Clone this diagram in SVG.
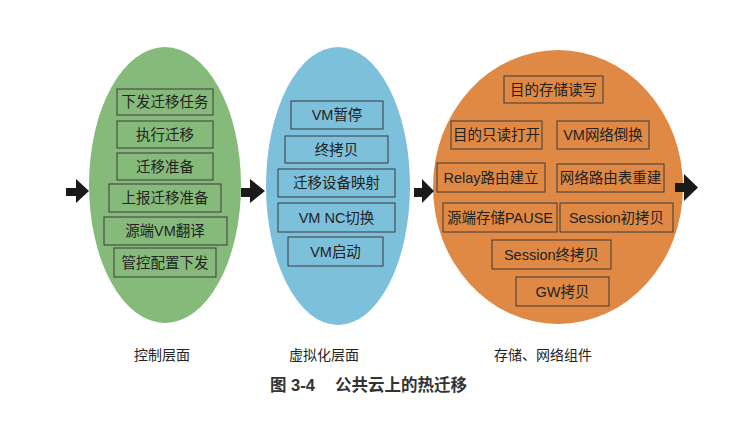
<svg xmlns="http://www.w3.org/2000/svg" width="756" height="426" viewBox="0 0 756 426">
<defs>
<style>
.box{fill:none;stroke:#3a3a3a;stroke-width:1}
.t{font-family:"Liberation Sans","Noto Sans CJK SC",sans-serif;font-size:14.5px;fill:#222;text-anchor:middle;dominant-baseline:central}
.lbl{font-family:"Liberation Sans","Noto Sans CJK SC",sans-serif;font-size:14px;fill:#222;text-anchor:middle;dominant-baseline:central}
.cap{font-family:"Liberation Sans","Noto Sans CJK SC",sans-serif;font-size:16.5px;font-weight:bold;fill:#333;dominant-baseline:central}
.arr{fill:#1a1a1a}
</style>
</defs>
<rect width="756" height="426" fill="#fff"/>
<g id="control-plane">
<ellipse cx="165" cy="185" rx="76" ry="138" fill="#86BA7A"/>
<g id="n1"><rect class="box" x="117" y="89" width="96" height="26"/><text class="t" x="165" y="102">下发迁移任务</text></g>
<g id="n2"><rect class="box" x="117" y="121" width="96" height="27"/><text class="t" x="165" y="134.5">执行迁移</text></g>
<g id="n3"><rect class="box" x="117" y="153" width="96" height="27"/><text class="t" x="165" y="166.5">迁移准备</text></g>
<g id="n4"><rect class="box" x="109" y="184" width="112" height="28"/><text class="t" x="165" y="198">上报迁移准备</text></g>
<g id="n5"><rect class="box" x="104" y="217" width="123" height="28"/><text class="t" x="165" y="231">源端VM翻译</text></g>
<g id="n6"><rect class="box" x="114" y="248" width="102" height="29"/><text class="t" x="165" y="262.5">管控配置下发</text></g>
</g>
<g id="virtualization-plane">
<ellipse cx="338" cy="186" rx="72" ry="139" fill="#7DC0DB"/>
<g id="v1"><rect class="box" x="291" y="101" width="92" height="28"/><text class="t" x="337" y="115">VM暂停</text></g>
<g id="v2"><rect class="box" x="285" y="136" width="103" height="27"/><text class="t" x="336.5" y="149.5">终拷贝</text></g>
<g id="v3"><rect class="box" x="278" y="169" width="117" height="28"/><text class="t" x="336.5" y="183">迁移设备映射</text></g>
<g id="v4"><rect class="box" x="278" y="203" width="117" height="29"/><text class="t" x="336.5" y="217.5">VM NC切换</text></g>
<g id="v5"><rect class="box" x="288" y="237" width="95" height="29"/><text class="t" x="335.5" y="251.5">VM启动</text></g>
</g>
<g id="storage-network">
<ellipse cx="558" cy="187" rx="125" ry="137" fill="#DF8944"/>
<g id="s1"><rect class="box" x="504" y="76" width="99" height="27"/><text class="t" x="553.5" y="89.5">目的存储读写</text></g>
<g id="s2"><rect class="box" x="451" y="121" width="91" height="28"/><text class="t" x="496.5" y="135">目的只读打开</text></g>
<g id="s3"><rect class="box" x="557" y="121" width="92" height="28"/><text class="t" x="603" y="135">VM网络倒换</text></g>
<g id="s4"><rect class="box" x="437" y="163" width="108" height="29"/><text class="t" x="491" y="177.5">Relay路由建立</text></g>
<g id="s5"><rect class="box" x="557" y="164" width="107" height="28"/><text class="t" x="610.5" y="178">网络路由表重建</text></g>
<g id="s6"><rect class="box" x="443" y="203" width="114" height="29"/><text class="t" x="500" y="217.5">源端存储PAUSE</text></g>
<g id="s7"><rect class="box" x="560" y="203" width="113" height="29"/><text class="t" x="616.5" y="217.5">Session初拷贝</text></g>
<g id="s8"><rect class="box" x="492" y="240" width="119" height="29"/><text class="t" x="551.5" y="254.5">Session终拷贝</text></g>
<g id="s9"><rect class="box" x="516" y="277" width="93" height="29"/><text class="t" x="562.5" y="291.5">GW拷贝</text></g>
</g>
<g id="connectors">
<path class="arr" d="M66,188 H76 V179 L89,191 L76,203 V196 H66 Z"/>
<path class="arr" d="M241,188 H250 V179 L265,191 L250,203 V197 H241 Z"/>
<path class="arr" d="M414,188 H422 V179 L434,191 L422,203 V197 H414 Z"/>
<path class="arr" d="M675,183 H684 V174 L698,187.5 L684,201 V192 H675 Z"/>
</g>
<g id="labels">
<text class="lbl" x="162" y="355">控制层面</text>
<text class="lbl" x="324" y="355">虚拟化层面</text>
<text class="lbl" x="543" y="355">存储、网络组件</text>
<text class="cap" x="270" y="385">图 3-4</text>
<text class="cap" x="335" y="385">公共云上的热迁移</text>
</g>
</svg>
